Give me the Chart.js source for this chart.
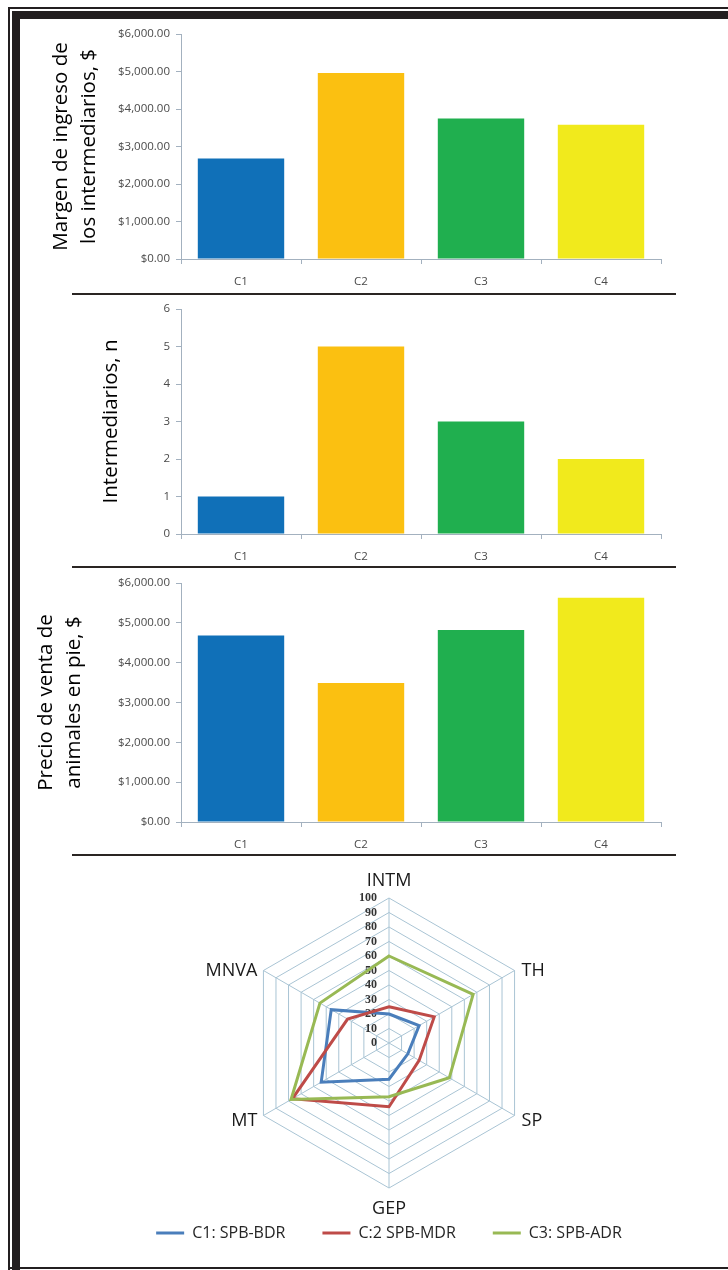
<!DOCTYPE html>
<html>
<head>
<meta charset="utf-8">
<script src="https://cdn.jsdelivr.net/npm/chart.js@4.4.1/dist/chart.umd.min.js"></script>
<style>
html,body{margin:0;padding:0;background:#fff;overflow:hidden;}
#page{position:relative;width:728px;height:1270px;background:#fff;overflow:hidden;}
.frame{position:absolute;background:#231f20;}
.sep{position:absolute;background:#2a2523;height:2px;left:72px;width:604px;}
canvas{position:absolute;}
</style>
</head>
<body>
<div id="page">
  <div class="frame" style="left:8px;top:7px;width:720px;height:2px"></div>
  <div class="frame" style="left:8px;top:7px;width:2px;height:1263px"></div>
  <div class="frame" style="left:12px;top:11px;width:716px;height:8px"></div>
  <div class="frame" style="left:12px;top:11px;width:8px;height:1259px"></div>
  <div class="frame" style="left:8px;top:1267px;width:720px;height:2px"></div>
  <div class="sep" style="top:293px"></div>
  <div class="sep" style="top:566px"></div>
  <div class="sep" style="top:854px"></div>
  <canvas id="c1" width="728" height="271" style="left:0;top:19px"></canvas>
  <canvas id="c2" width="728" height="271" style="left:0;top:294px"></canvas>
  <canvas id="c3" width="728" height="285" style="left:0;top:568px"></canvas>
  <canvas id="c4" width="660" height="410" style="left:59px;top:858px"></canvas>
</div>
<script>
// ---- data ----
const categories = ['C1', 'C2', 'C3', 'C4'];
const margenValues = [2680, 4960, 3750, 3580];
const intermediariosValues = [1, 5, 3, 2];
const precioValues = [4680, 3490, 4820, 5630];

const radarLabels = ['INTM', 'TH', 'SP', 'GEP', 'MT', 'MNVA'];
const seriesNames = ['C1: SPB-BDR', 'C:2 SPB-MDR', 'C3: SPB-ADR'];
const c1Values = [20, 24, 15, 25, 54, 46];
const c2Values = [25, 36, 24, 44, 77, 33];
const c3Values = [60, 67, 48, 37, 78, 55];

const titleMargen = ['Margen de ingreso de', 'los intermediarios, $'];
const titleInter = 'Intermediarios, n';
const titlePrecio = ['Precio de venta de', 'animales en pie, $'];

// ---- styles ----
const barColors = ['#1070B8', '#FBC011', '#20AF4F', '#F1EA1C'];
const seriesColors = ['#4A7EBB', '#BE4B48', '#98B954'];
const axisColor = '#a3b1bf';
const tickColor = '#4a4a4a';

Chart.defaults.font.family = '"Open Sans", "Noto Sans", sans-serif';

const money = v => '$' + Number(v).toLocaleString('en-US', {minimumFractionDigits: 2, maximumFractionDigits: 2});

function barChart(id, values, max, step, fmt, title, titlePad) {
  return new Chart(document.getElementById(id), {
    type: 'bar',
    data: {
      labels: categories,
      datasets: [{data: values, backgroundColor: barColors, borderWidth: 0,
                  categoryPercentage: 1, barPercentage: 0.72}]
    },
    options: {
      responsive: false, animation: false,
      layout: {padding: {top: 15, right: 67, left: 0, bottom: 0}},
      plugins: {legend: {display: false}, tooltip: {enabled: false}},
      scales: {
        x: {
          grid: {display: true, drawOnChartArea: false, drawTicks: true, tickLength: 5, color: axisColor, offset: true},
          border: {display: true, color: axisColor, width: 1},
          ticks: {color: tickColor, font: {size: 11.5}, padding: 11},
          afterFit: s => { s.height = 31; }
        },
        y: {
          min: 0, max: max,
          ticks: {stepSize: step, color: tickColor, font: {size: 11.5}, padding: 6, callback: fmt},
          grid: {display: true, drawOnChartArea: false, drawTicks: true, tickLength: 5, color: axisColor},
          border: {display: true, color: axisColor, width: 1},
          title: {display: true, text: title, color: '#000', font: {size: 20.5, lineHeight: 1.36},
                  padding: {top: titlePad, bottom: 0}},
          afterFit: s => { s.width = 181; }
        }
      }
    }
  });
}

barChart('c1', margenValues, 6000, 1000, money, titleMargen, 47);
barChart('c2', intermediariosValues, 6, 1, v => String(v), titleInter, 97);
barChart('c3', precioValues, 6000, 1000, money, titlePrecio, 32);

const radarText = {
  id: 'radarText',
  beforeDatasetsDraw(chart) {
    const s = chart.scales.r, ctx = chart.ctx;
    ctx.save();
    ctx.font = 'bold 12px "Liberation Serif", serif';
    ctx.fillStyle = '#333333';
    ctx.textAlign = 'right';
    ctx.textBaseline = 'middle';
    s.ticks.forEach(t => {
      const d = s.getDistanceFromCenterForValue(t.value);
      ctx.fillText(String(t.value), s.xCenter - 12, s.yCenter - d);
    });
    ctx.restore();
  },
  afterDraw(chart) {
    const s = chart.scales.r, ctx = chart.ctx;
    ctx.save();
    ctx.font = '18px "Open Sans", sans-serif';
    ctx.fillStyle = '#1a1a1a';
    ctx.textBaseline = 'alphabetic';
    chart.data.labels.forEach((lab, i) => {
      const p = s.getPointPosition(i, s.drawingArea);
      const a = Math.round(s.getIndexAngle(i) * 180 / Math.PI) % 360;
      let x = p.x, y = p.y;
      if (a === 0) { ctx.textAlign = 'center'; y -= 12; }
      else if (a === 180) { ctx.textAlign = 'center'; y += 26; }
      else if (a < 180) { ctx.textAlign = 'left'; x += 7; y += (a < 90 ? 5 : 10); }
      else { ctx.textAlign = 'right'; x -= 6; y += (a > 270 ? 5 : 10); }
      ctx.fillText(lab, x, y);
    });
    ctx.restore();
  }
};

const radarSeries = [c1Values, c2Values, c3Values];
new Chart(document.getElementById('c4'), {
  type: 'radar',
  data: {
    labels: radarLabels,
    datasets: radarSeries.map((vals, i) => ({
      label: seriesNames[i], data: vals,
      borderColor: seriesColors[i], backgroundColor: seriesColors[i],
      pointBorderColor: seriesColors[i], pointBackgroundColor: seriesColors[i],
      borderWidth: 3, pointBorderWidth: 3, pointRadius: 0, fill: false,
      order: 3 - i
    }))
  },
  options: {
    responsive: false, animation: false,
    layout: {padding: {top: 40, bottom: 17, left: 0, right: 0}},
    plugins: {
      tooltip: {enabled: false},
      legend: {
        position: 'bottom',
        labels: {
          usePointStyle: true, pointStyle: 'line', pointStyleWidth: 28, padding: 37,
          color: '#262626', font: {size: 16},
          sort: (a, b) => a.datasetIndex - b.datasetIndex
        }
      }
    },
    scales: {
      r: {
        min: 0, max: 100,
        ticks: {stepSize: 10, display: false},
        pointLabels: {display: false},
        grid: {color: '#a9c4d4', lineWidth: 1},
        angleLines: {color: '#a9c4d4', lineWidth: 1}
      }
    }
  },
  plugins: [radarText]
});
</script>
</body>
</html>
